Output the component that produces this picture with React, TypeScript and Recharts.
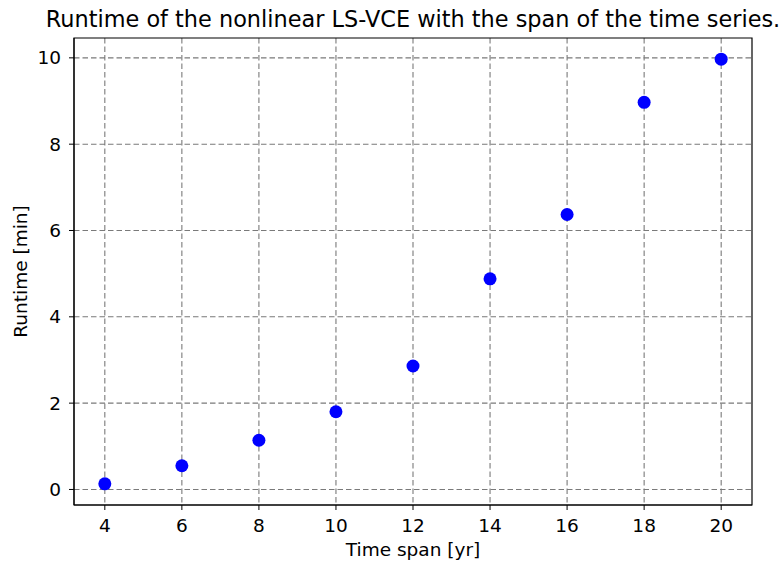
import {
  ScatterChart,
  Scatter,
  XAxis,
  YAxis,
  CartesianGrid,
  ReferenceArea,
} from "recharts";

// Time span in years
const spans = [4, 6, 8, 10, 12, 14, 16, 18, 20];
// Runtime in minutes
const runtimes = [0.13, 0.55, 1.14, 1.8, 2.86, 4.88, 6.37, 8.97, 9.97];

const xTicks = [4, 6, 8, 10, 12, 14, 16, 18, 20];
const yTicks = [0, 2, 4, 6, 8, 10];

const X_DOMAIN: [number, number] = [3.2, 20.8];
const Y_DOMAIN: [number, number] = [-0.36, 10.46];

const data = spans.map((s, i) => ({ span: s, runtime: runtimes[i] }));

const FONT = "'DejaVu Sans', sans-serif";
const LABEL_SIZE = 18.5;

export default function App() {
  return (
    <div
      style={{
        position: "absolute",
        left: 0,
        top: 0,
        width: 783,
        height: 563,
        background: "#fff",
        fontFamily: FONT,
      }}
    >
      <div
        style={{
          position: "absolute",
          left: 0,
          width: 826,
          top: 8,
          lineHeight: "22px",
          textAlign: "center",
          fontSize: 22.4,
          color: "#000",
          whiteSpace: "nowrap",
        }}
      >
        Runtime of the nonlinear LS-VCE with the span of the time series.
      </div>
      <ScatterChart
        width={783}
        height={563}
        margin={{ top: 38, right: 31, bottom: 7, left: 14 }}
      >
        <CartesianGrid
          stroke="#7a7a7a"
          strokeWidth={1.1}
          strokeDasharray="5.5 3"
          horizontalValues={yTicks}
          verticalValues={xTicks}
        />
        <XAxis
          type="number"
          dataKey="span"
          domain={X_DOMAIN}
          ticks={xTicks}
          allowDataOverflow
          height={51}
          stroke="#000"
          tickSize={5}
          tickMargin={9}
          tick={{ fill: "#000", fontSize: LABEL_SIZE, fontFamily: FONT }}
          label={{
            value: "Time span [yr]",
            position: "insideBottom",
            offset: 0,
            fill: "#000",
            fontSize: LABEL_SIZE,
            fontFamily: FONT,
          }}
        />
        <YAxis
          type="number"
          dataKey="runtime"
          domain={Y_DOMAIN}
          ticks={yTicks}
          allowDataOverflow
          width={60}
          stroke="#000"
          tickSize={5}
          tickMargin={8}
          tick={{ fill: "#000", fontSize: LABEL_SIZE, fontFamily: FONT }}
          label={{
            value: "Runtime [min]",
            angle: -90,
            position: "insideLeft",
            offset: 6,
            style: { textAnchor: "middle" },
            fill: "#000",
            fontSize: LABEL_SIZE,
            fontFamily: FONT,
          }}
        />
        <ReferenceArea
          x1={X_DOMAIN[0]}
          x2={X_DOMAIN[1]}
          y1={Y_DOMAIN[0]}
          y2={Y_DOMAIN[1]}
          fill="none"
          stroke="#000"
          strokeWidth={1.2}
        />
        <Scatter
          data={data}
          fill="#0000ff"
          isAnimationActive={false}
          shape={(p: any) => (
            <circle cx={p.cx} cy={p.cy} r={6.5} fill="#0000ff" />
          )}
        />
      </ScatterChart>
    </div>
  );
}
